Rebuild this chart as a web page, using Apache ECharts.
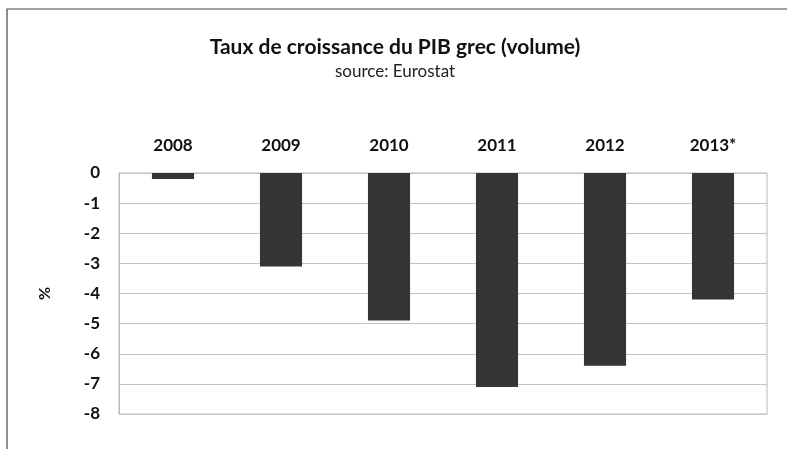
<!DOCTYPE html>
<html><head><meta charset="utf-8">
<script src="https://cdn.jsdelivr.net/npm/echarts@6/dist/echarts.min.js"></script>
<style>html,body{margin:0;padding:0;background:#fff}#c{width:787px;height:449px}</style>
</head><body><div id="c"></div>
<script>
var categories = ['2008','2009','2010','2011','2012','2013*'];
var values = [-0.2, -3.1, -4.9, -7.1, -6.4, -4.2];
var yTicks = [0,-1,-2,-3,-4,-5,-6,-7,-8];
var chart = echarts.init(document.getElementById('c'));
var font = 'Lato, "Open Sans", sans-serif';
chart.setOption({
  backgroundColor: '#fff',
  animation: false,
  title: {
    text: 'Taux de croissance du PIB grec (volume)',
    subtext: 'source: Eurostat',
    left: 390, textAlign: 'center', top: 32,
    itemGap: 5,
    textStyle: {fontFamily: font, fontWeight: 'bold', fontSize: 21, color: '#111'},
    subtextStyle: {fontFamily: font, fontSize: 17, color: '#222'}
  },
  graphic: [{type: 'rect', shape: {x: 7, y: 9, width: 900, height: 600}, style: {fill: 'none', stroke: '#444', lineWidth: 1.2}}],
  grid: {left: 119, right: 20, top: 173, bottom: 35, show: true, borderColor: '#bbb', borderWidth: 1},
  xAxis: {
    type: 'category', position: 'top', data: categories,
    axisLine: {show: false}, axisTick: {show: false},
    axisLabel: {margin: 19, fontFamily: font, fontWeight: 'bold', fontSize: 17, color: '#111'}
  },
  yAxis: {
    type: 'value', min: -8, max: 0, interval: 1,
    name: '%', nameLocation: 'middle', nameGap: 66, nameRotate: 90,
    nameTextStyle: {fontFamily: font, fontWeight: 'bold', fontSize: 16, color: '#111'},
    axisLine: {show: true, lineStyle: {color: '#bbb'}}, axisTick: {show: false},
    splitLine: {lineStyle: {color: '#c4c4c4', width: 1}},
    axisLabel: {margin: 19, fontFamily: font, fontWeight: 'bold', fontSize: 17, color: '#111'}
  },
  series: [{type: 'bar', data: values, barWidth: '39%', itemStyle: {color: '#353535'}}]
});
</script></body></html>
